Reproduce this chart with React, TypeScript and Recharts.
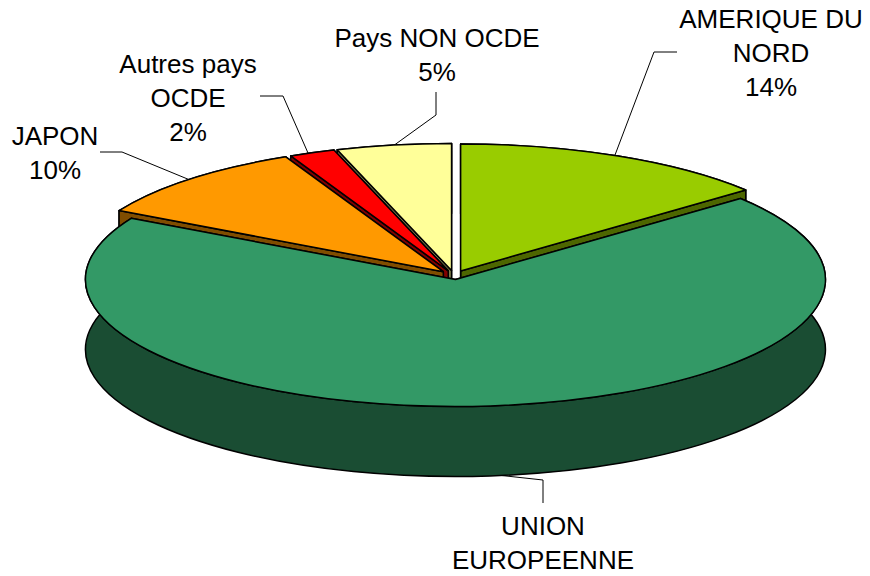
import React from 'react';
import { PieChart, Pie } from 'recharts';

const names = ['AMERIQUE DU NORD', 'Pays NON OCDE', 'Autres pays OCDE', 'JAPON', 'UNION EUROPEENNE'];
const shares = [14, 5, 2, 10, 69];
const topColors = ['#99CC00', '#FFFF99', '#FF0000', '#FF9900', '#339966'];
const sideColors = ['#4D6600', '#80804D', '#800000', '#804D00', '#1A4D33'];

const pieData = names.map((name, i) => ({ name, value: shares[i], top: topColors[i], side: sideColors[i] }));

// la perspective : le camembert est ecrase en Y, puis extrude
const SQUASH = 127 / 370;
const DEPTH = 70;
const EXPLODE_X = 15.6;
const EXPLODE_Y = 4.5;
const RAD = Math.PI / 180;

function Slice3D(props: any) {
  const { cx, cy, outerRadius, startAngle, endAngle, payload } = props;
  const rx = outerRadius;
  const ry = outerRadius * SQUASH;
  const mid = ((startAngle + endAngle) / 2) * RAD;
  const ox = cx + EXPLODE_X * Math.cos(mid);
  const oy = cy - EXPLODE_Y * Math.sin(mid);
  const px = (a: number) => (ox + rx * Math.cos(a * RAD)).toFixed(2);
  const py = (a: number, d = 0) => (oy - ry * Math.sin(a * RAD) + d).toFixed(2);
  const large = endAngle - startAngle > 180 ? 1 : 0;

  const top = `M${ox},${oy} L${px(startAngle)},${py(startAngle)} A${rx},${ry} 0 ${large} 0 ${px(endAngle)},${py(endAngle)} Z`;
  const rim = `M${px(startAngle)},${py(startAngle)} A${rx},${ry} 0 ${large} 0 ${px(endAngle)},${py(endAngle)} L${px(endAngle)},${py(endAngle, DEPTH)} A${rx},${ry} 0 ${large} 1 ${px(startAngle)},${py(startAngle, DEPTH)} Z`;
  const side = (a: number) => `M${ox},${oy} L${px(a)},${py(a)} L${px(a)},${py(a, DEPTH)} L${ox},${oy + DEPTH} Z`;

  // le bord d'abord, sinon son arc inferieur se voit dans la tranche
  return (
    <g stroke="#000" strokeWidth={1.5} strokeLinejoin="round">
      <path d={rim} fill={payload.side} />
      <path d={side(startAngle)} fill={payload.side} />
      <path d={side(endAngle)} fill={payload.side} />
      <path d={top} fill={payload.top} />
    </g>
  );
}

// textes et traits de rappel, dans l'ordre de lecture
const labelLines = [
  ['AMERIQUE DU', 'NORD', '14%'],
  ['Pays NON OCDE', '5%'],
  ['Autres pays', 'OCDE', '2%'],
  ['JAPON', '10%'],
  ['UNION', 'EUROPEENNE'],
];
const labelLayout = [
  { x: 771, y: 28, leader: '615,155 654,52 677,52' },
  { x: 437, y: 47, leader: '393,146 436,115 436,92' },
  { x: 188, y: 73, leader: '308,153 283,96 260,96' },
  { x: 55, y: 145, leader: '190,180 122,152 100,152' },
  { x: 543, y: 535, leader: '497,475 543,480 543,503' },
];

export default function App() {
  return (
    <div style={{ position: 'absolute', left: 0, top: 0, width: 870, height: 576, background: '#fff' }}>
      <PieChart width={870} height={576} margin={{ top: 0, right: 0, bottom: 0, left: 0 }}>
        <Pie
          data={pieData}
          dataKey="value"
          nameKey="name"
          cx={454}
          cy={275}
          innerRadius={0}
          outerRadius={370}
          startAngle={39.6}
          endAngle={399.6}
          paddingAngle={0}
          stroke="none"
          label={false}
          labelLine={false}
          isAnimationActive={false}
          shape={Slice3D}
        />
        {labelLayout.map((l, i) => (
          <g key={names[i]}>
            <polyline points={l.leader} fill="none" stroke="#000" strokeWidth={1} />
            <text x={l.x} y={l.y} textAnchor="middle" fontFamily="'Liberation Sans', Arial, sans-serif" fontSize={26} fill="#000">
              {labelLines[i].map((line, j) => (
                <tspan key={line} x={l.x} dy={j === 0 ? 0 : 34}>{line}</tspan>
              ))}
            </text>
          </g>
        ))}
      </PieChart>
    </div>
  );
}
